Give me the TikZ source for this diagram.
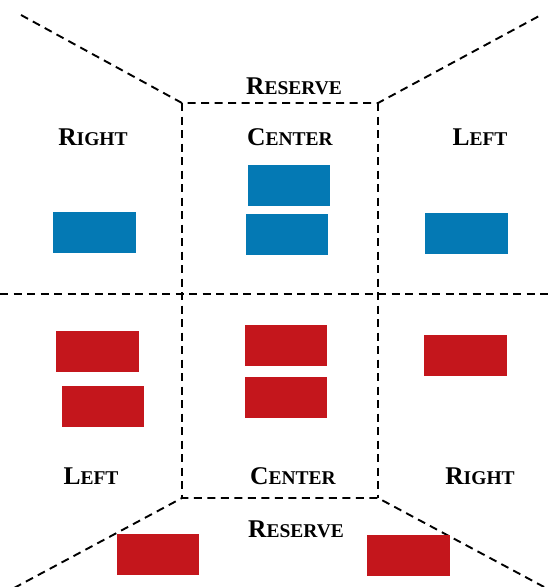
\documentclass[tikz,border=0pt]{standalone}
\usepackage{fontspec}
\setmainfont{Liberation Serif}
\definecolor{seatblue}{HTML}{0479B4}
\definecolor{seatred}{HTML}{C4161C}
% bold small-cap style label: large initial, smaller capitals after it
\newcommand{\zonename}[2]{\bfseries{\fontsize{25.5}{26}\selectfont #1}{\fontsize{19.5}{20}\selectfont #2}}
\begin{document}
\begin{tikzpicture}[x=1pt,y=-1pt,
  divider/.style={line width=1.9pt, dash pattern=on 8pt off 5.5pt, black},
  seat/.style={rectangle, minimum width=82.5pt, minimum height=41pt, inner sep=0pt, draw=none},
  blueseat/.style={seat, fill=seatblue},
  redseat/.style={seat, fill=seatred},
  zone/.style={anchor=base, inner sep=0pt, text=black}]
\useasboundingbox (0,0) rectangle (550,587);

% corners of the central box and the outer ends of the dividers
\coordinate (tl) at (182,103);
\coordinate (tr) at (378,103);
\coordinate (bl) at (182,498);
\coordinate (br) at (378,498);
\coordinate (tlout) at (21,15);
\coordinate (trout) at (541,15);
\coordinate (blout) at (14,588);
\coordinate (brout) at (546,588);
\coordinate (midl) at (0,294);
\coordinate (midr) at (550,294);

\begin{scope}
  \clip (0,0) rectangle (550,587);
  \draw[divider] (tlout) -- (tl) -- (tr) -- (trout);
  \draw[divider] (blout) -- (bl) -- (br) -- (brout);
  \draw[divider] (tl) -- (bl);
  \draw[divider] (tr) -- (br);
  \draw[divider] (midl) -- (midr);
\end{scope}

% zone labels
\node[zone] (reservetop) at (294,94) {\zonename{R}{ESERVE}};
\node[zone] (righttop) at (93,145.5) {\zonename{R}{IGHT}};
\node[zone] (centertop) at (290,145.5) {\zonename{C}{ENTER}};
\node[zone] (lefttop) at (480,145.5) {\zonename{L}{EFT}};
\node[zone] (leftbot) at (91,484) {\zonename{L}{EFT}};
\node[zone] (centerbot) at (293,484) {\zonename{C}{ENTER}};
\node[zone] (rightbot) at (480,484) {\zonename{R}{IGHT}};
\node[zone] (reservebot) at (296,537) {\zonename{R}{ESERVE}};

% blue seats
\node[blueseat] (b1) at (289,185) {};
\node[blueseat] (b2) at (287.2,234) {};
\node[blueseat] (b3) at (94.7,232.2) {};
\node[blueseat] (b4) at (466.3,233.8) {};

% red seats
\node[redseat] (r1) at (97.3,351.5) {};
\node[redseat] (r2) at (103,406) {};
\node[redseat] (r3) at (286.2,345) {};
\node[redseat] (r4) at (286.2,397.7) {};
\node[redseat] (r5) at (465.7,355.2) {};
\node[redseat] (r6) at (158,554.5) {};
\node[redseat] (r7) at (408.5,555.5) {};
\end{tikzpicture}
\end{document}
